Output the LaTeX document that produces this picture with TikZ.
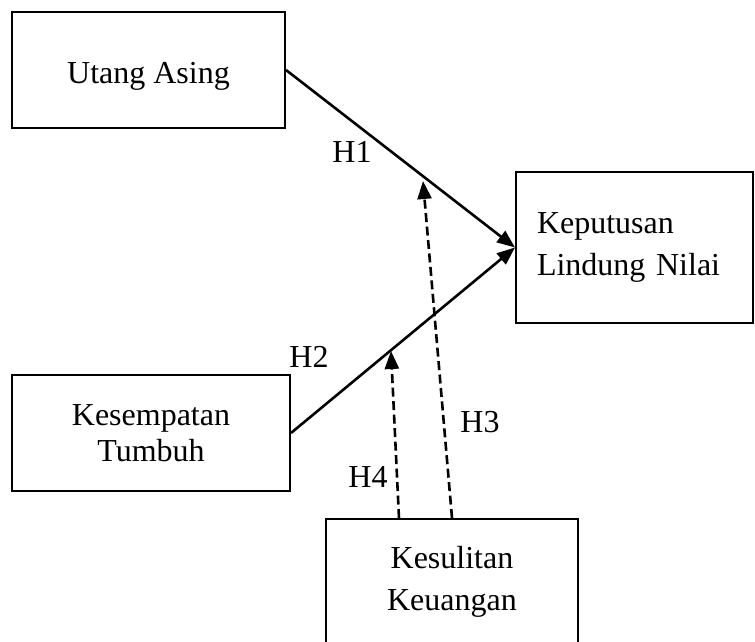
\documentclass[tikz,border=0pt]{standalone}
\usepackage{fontspec}
\setmainfont{Liberation Serif}
\usetikzlibrary{arrows.meta}
\begin{document}
\begin{tikzpicture}[x=1pt,y=-1pt,
  box/.style={draw,line width=2pt,inner sep=0pt,align=center,font=\fontsize{32}{42}\selectfont},
  lbl/.style={inner sep=0pt,font=\fontsize{32}{38}\selectfont},
  link/.style={line width=2.6pt,-{Triangle[length=18pt,width=14pt]}},
  dlink/.style={link,dash pattern=on 9pt off 4.5pt}]
\useasboundingbox (0,0) rectangle (755,642);
\node[box,minimum width=273,minimum height=116,text height=26pt,text depth=0pt] (ua) at (148.5,70) {Utang Asing};
\node[box,minimum width=278,minimum height=116,font=\fontsize{32}{36}\selectfont] (kt) at (151,433) {Kesempatan\\Tumbuh};
\node[box,minimum height=151,text width=195,inner xsep=21pt,align=left] (kp) at (634.5,247.5) {Keputusan\\Lindung Nilai};
\node[box,minimum width=252,minimum height=126] (ks) at (452,582) {Kesulitan\\Keuangan};
\coordinate (h3) at (423,181);
\coordinate (h4) at (391,351);
\draw[link] (ua.east) -- (kp.west);
\draw[link] (kt.east) -- (kp.west);
\draw[dlink] (ks.north) -- (h3);
\draw[dlink] ([xshift=-53pt]ks.north) -- (h4);
\node[lbl] (l1) at (352,152) {H1};
\node[lbl] (l2) at (309,357) {H2};
\node[lbl] (l3) at (480,422) {H3};
\node[lbl] (l4) at (368,477) {H4};
\end{tikzpicture}
\end{document}
